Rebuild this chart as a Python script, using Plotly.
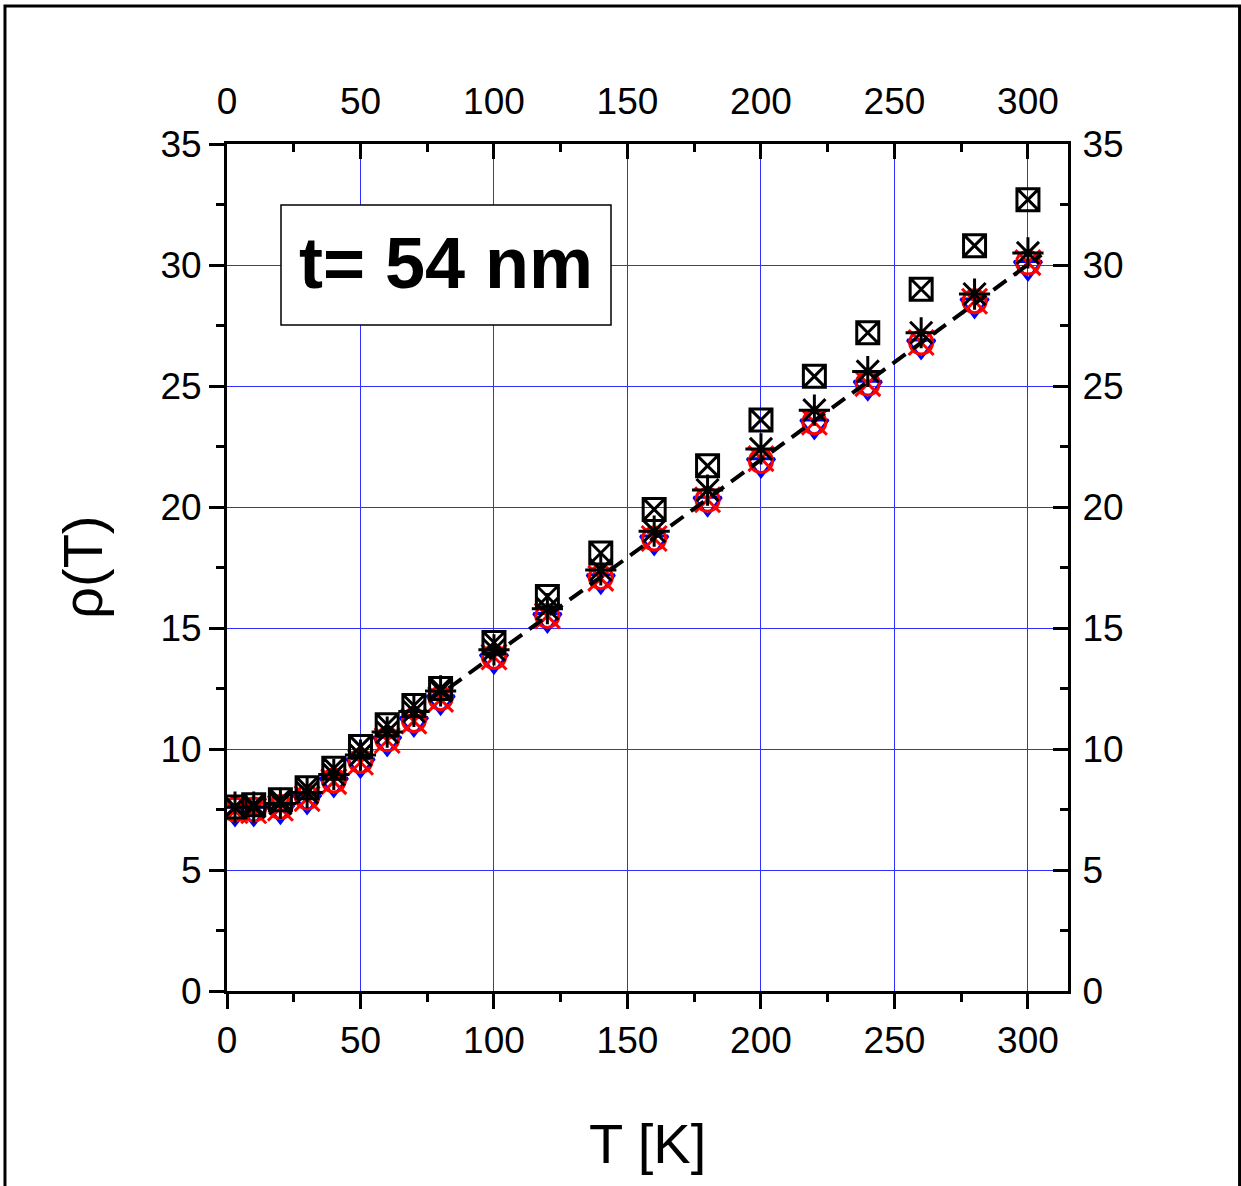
import plotly.graph_objects as go

# ---- data ----
T = [3, 10, 20, 30, 40, 50, 60, 70, 80, 100, 120, 140, 160, 180, 200, 220, 240, 260, 280, 300]
rho_tri = [7.35, 7.35, 7.45, 7.85, 8.55, 9.35, 10.25, 11.05, 11.95, 13.65, 15.35, 16.95, 18.55, 20.15, 21.75, 23.35, 24.95, 26.65, 28.35, 29.9]
rho_circ = [7.5, 7.5, 7.6, 8.0, 8.7, 9.5, 10.4, 11.2, 12.1, 13.8, 15.5, 17.1, 18.7, 20.3, 21.9, 23.5, 25.1, 26.8, 28.5, 30.1]
rho_x = [7.45, 7.45, 7.55, 7.95, 8.65, 9.45, 10.35, 11.15, 12.05, 13.8, 15.5, 17.05, 18.7, 20.3, 22.0, 23.5, 25.1, 26.8, 28.5, 30.1]
rho_sq = [7.6, 7.7, 7.9, 8.4, 9.2, 10.1, 11.0, 11.8, 12.5, 14.4, 16.3, 18.1, 19.9, 21.7, 23.6, 25.4, 27.2, 29.0, 30.8, 32.7]
rho_ast = [7.6, 7.6, 7.75, 8.2, 8.95, 9.75, 10.7, 11.55, 12.4, 14.1, 15.8, 17.4, 19.0, 20.7, 22.4, 24.0, 25.6, 27.2, 28.8, 30.5]
fit_T = [83, 305]
fit_rho = [12.51, 30.42]

x_ticks = [0, 50, 100, 150, 200, 250, 300]
y_ticks = [0, 5, 10, 15, 20, 25, 30, 35]
label = "t= 54 nm"

FONT = "Liberation Sans, Arial, sans-serif"
TICK_SIZE = 37

fig = go.Figure()

fig.add_trace(go.Scatter(x=T, y=rho_tri, mode="markers",
                         marker=dict(symbol="triangle-down-open", size=24, color="#0000ff",
                                     line=dict(width=3, color="#0000ff"))))
fig.add_trace(go.Scatter(x=T, y=rho_circ, mode="markers",
                         marker=dict(symbol="circle-open", size=23, color="#ff0000",
                                     line=dict(width=3, color="#ff0000"))))
fig.add_trace(go.Scatter(x=T, y=rho_x, mode="markers",
                         marker=dict(symbol="x-thin-open", size=25, color="#ff0000",
                                     line=dict(width=3, color="#ff0000"))))
fig.add_trace(go.Scatter(x=fit_T, y=fit_rho, mode="lines",
                         line=dict(color="black", width=4, dash="16px,9px")))
fig.add_trace(go.Scatter(x=T, y=rho_sq, mode="markers",
                         marker=dict(symbol="square-x-open", size=22, color="black",
                                     line=dict(width=3, color="black"))))
fig.add_trace(go.Scatter(x=T, y=rho_ast, mode="markers",
                         marker=dict(symbol="asterisk-open", size=26, color="black",
                                     line=dict(width=3, color="black"))))
# invisible trace to activate the top/right axes
fig.add_trace(go.Scatter(x=[0], y=[0], xaxis="x2", yaxis="y2", mode="markers",
                         marker=dict(opacity=0), hoverinfo="skip"))

axis_common = dict(showline=True, linecolor="black", linewidth=3, zeroline=False,
                   ticks="outside", ticklen=15, tickwidth=3, tickcolor="black",
                   tickfont=dict(family=FONT, size=TICK_SIZE, color="black"))

fig.update_layout(
    width=1241, height=1186,
    margin=dict(l=227, r=173, t=144, b=195),
    paper_bgcolor="white", plot_bgcolor="white",
    showlegend=False,
    xaxis=dict(range=[0, 315], tickvals=x_ticks, showgrid=True, gridcolor="#2f2fff", gridwidth=1.3,
               minor=dict(dtick=25, tick0=0, ticks="outside", ticklen=8, tickwidth=3, tickcolor="black",
                          showgrid=False),
               **axis_common),
    yaxis=dict(range=[0, 35], tickvals=y_ticks, showgrid=True, gridcolor="#2f2fff", gridwidth=1.3,
               minor=dict(dtick=2.5, tick0=0, ticks="outside", ticklen=8, tickwidth=3, tickcolor="black",
                          showgrid=False),
               **axis_common),
    xaxis2=dict(overlaying="x", side="top", range=[0, 315], tickvals=x_ticks, showgrid=False,
                showline=True, linecolor="black", linewidth=3, zeroline=False,
                ticks="inside", ticklen=15, tickwidth=3, tickcolor="black", ticklabelstandoff=12,
                tickfont=dict(family=FONT, size=TICK_SIZE, color="black"),
                minor=dict(dtick=25, tick0=0, ticks="inside", ticklen=8, tickwidth=3, tickcolor="black",
                           showgrid=False)),
    yaxis2=dict(overlaying="y", side="right", range=[0, 35], tickvals=y_ticks, showgrid=False,
                showline=True, linecolor="black", linewidth=3, zeroline=False,
                ticks="inside", ticklen=15, tickwidth=3, tickcolor="black", ticklabelstandoff=4,
                tickfont=dict(family=FONT, size=TICK_SIZE, color="black"),
                minor=dict(dtick=2.5, tick0=0, ticks="inside", ticklen=8, tickwidth=3, tickcolor="black",
                           showgrid=False)),
    shapes=[
        dict(type="rect", xref="paper", yref="paper", x0=0.0642, x1=0.4566, y0=0.7863, y1=0.928,
             line=dict(color="black", width=1.5), fillcolor="white", layer="above"),
        dict(type="rect", xref="paper", yref="paper", x0=-0.264, x1=1.204, y0=-0.245, y1=1.163,
             line=dict(color="black", width=3), fillcolor="rgba(0,0,0,0)", layer="above"),
    ],
    annotations=[
        dict(text=label, xref="paper", yref="paper", x=0.2604, y=0.859, showarrow=False,
             xanchor="center", yanchor="middle",
             font=dict(family=FONT, size=72, color="black", weight="bold")),
        dict(text="T [K]", xref="paper", yref="paper", x=0.5, y=-0.18, showarrow=False,
             xanchor="center", yanchor="middle",
             font=dict(family=FONT, size=56, color="black")),
        dict(text="ρ(T)", xref="paper", yref="paper", x=-0.172, y=0.5, showarrow=False,
             xanchor="center", yanchor="middle", textangle=-90,
             font=dict(family=FONT, size=56, color="black")),
    ],
)

fig.write_html("out.html")
